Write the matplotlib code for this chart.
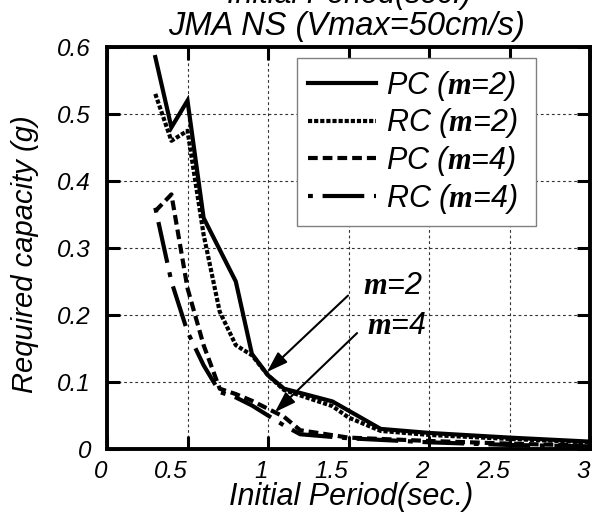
import matplotlib
matplotlib.use("Agg")
import matplotlib.pyplot as plt

plt.rcParams['font.family'] = ['Liberation Sans', 'DejaVu Sans']
plt.rcParams['font.style'] = 'italic'
plt.rcParams['mathtext.fontset'] = 'custom'
plt.rcParams['mathtext.bf'] = 'Liberation Serif:bold'
plt.rcParams['mathtext.rm'] = 'Liberation Sans:italic'
plt.rcParams['lines.scale_dashes'] = False

# ---- data ----
period_pc2 = [0.3, 0.4, 0.5, 0.6, 0.8, 0.9, 1.0, 1.1, 1.4, 1.7, 2.0, 2.5, 3.0]
cap_pc2 = [0.585, 0.48, 0.52, 0.345, 0.25, 0.142, 0.11, 0.09, 0.071, 0.03, 0.024, 0.017, 0.011]

period_rc2 = [0.3, 0.4, 0.5, 0.6, 0.7, 0.8, 0.9, 1.0, 1.1, 1.4, 1.5, 1.7, 2.0, 2.5, 3.0]
cap_rc2 = [0.53, 0.46, 0.475, 0.32, 0.205, 0.155, 0.14, 0.11, 0.088, 0.064, 0.047, 0.027, 0.021, 0.015, 0.01]

period_pc4 = [0.3, 0.4, 0.5, 0.6, 0.7, 0.8, 0.9, 1.0, 1.1, 1.2, 1.5, 2.0, 2.5, 3.0]
cap_pc4 = [0.355, 0.38, 0.24, 0.155, 0.09, 0.082, 0.072, 0.06, 0.048, 0.028, 0.017, 0.012, 0.008, 0.005]

period_rc4 = [0.3, 0.4, 0.5, 0.6, 0.7, 0.8, 0.9, 1.0, 1.1, 1.2, 1.5, 2.0, 2.5, 3.0]
cap_rc4 = [0.36, 0.25, 0.175, 0.125, 0.085, 0.077, 0.065, 0.05, 0.035, 0.022, 0.016, 0.01, 0.006, 0.004]

series_labels = [r"PC ($\mathbf{m}$=2)", r"RC ($\mathbf{m}$=2)",
                 r"PC ($\mathbf{m}$=4)", r"RC ($\mathbf{m}$=4)"]

xticks = [0, 0.5, 1, 1.5, 2, 2.5, 3]
xtick_labels = ["0", "0.5", "1", "1.5", "2", "2.5", "3"]
yticks = [0, 0.1, 0.2, 0.3, 0.4, 0.5, 0.6]
ytick_labels = ["0", "0.1", "0.2", "0.3", "0.4", "0.5", "0.6"]

title = "JMA NS (Vmax=50cm/s)"
xlabel = "Initial Period(sec.)"
ylabel = "Required capacity (g)"

# annotations: (label, text pos, arrow start, arrow tip)
ann_m2 = (r"$\mathbf{m}$=2", (1.59, 0.232), (1.497, 0.229), (0.994, 0.115))
ann_m4 = (r"$\mathbf{m}$=4", (1.615, 0.171), (1.553, 0.173), (1.043, 0.055))

# ---- figure ----
W, H = 592, 512
fig = plt.figure(figsize=(W / 100, H / 100), dpi=100)
ax = fig.add_axes([107 / W, 1 - 449 / H, 483 / W, 402 / H])

lw = 3.0
ax.plot(period_pc2, cap_pc2, color='k', lw=lw, solid_joinstyle='miter', label=series_labels[0])
ax.plot(period_rc2, cap_rc2, color='k', lw=lw, linestyle=(0, (3.0, 1.4)),
        dash_capstyle='butt', label=series_labels[1])
ax.plot(period_pc4, cap_pc4, color='k', lw=lw, linestyle=(0, (7.0, 3.6)),
        dash_capstyle='butt', label=series_labels[2])
ax.plot(period_rc4, cap_rc4, color='k', lw=lw, linestyle=(0, (3.5, 7.0, 30.0, 7.0)),
        dash_capstyle='butt', label=series_labels[3])

ax.set_xlim(0, 3)
ax.set_ylim(0, 0.6)
ax.set_xticks(xticks)
ax.set_xticklabels(xtick_labels, ha='right')
ax.set_yticks(yticks)
ax.set_yticklabels(ytick_labels)
ax.tick_params(direction='in', length=9.5, width=2.2, top=True, right=True,
               labelsize=17.5)
ax.tick_params(axis='x', pad=8)
ax.tick_params(axis='y', pad=11.5)
for s in ax.spines.values():
    s.set_linewidth(2.8)
ax.grid(True, color='#333333', lw=0.8, linestyle=(0, (2.0, 2.0)))
ax.set_axisbelow(True)

leg = ax.legend(loc='upper left',
                bbox_to_anchor=((297 - 107) / 483, (449 - 58) / 402, (536 - 297) / 483, 0.0),
                mode='expand', borderaxespad=0, fontsize=22, handlelength=2.25,
                handletextpad=0.3, labelspacing=0.12, borderpad=0.35,
                fancybox=False, framealpha=1)
leg.get_frame().set_edgecolor('#808080')
leg.get_frame().set_linewidth(1.0)

for lab, tpos, start, tip in (ann_m2, ann_m4):
    ax.annotate('', xy=tip, xytext=start,
                arrowprops=dict(arrowstyle='-|>,head_length=0.9,head_width=0.3',
                                mutation_scale=14, lw=1.5, color='k',
                                shrinkA=0, shrinkB=0))
    ax.text(tpos[0], tpos[1], lab, fontsize=22, ha='left', va='baseline')

fig.text(349 / W, 1 - 3.5 / H, xlabel, fontsize=22, ha='center', va='baseline')
fig.text(347 / W, 1 - 35 / H, title, fontsize=23.5, ha='center', va='baseline')
fig.text(351 / W, 1 - 505 / H, xlabel, fontsize=22, ha='center', va='baseline')
fig.text(25 / W, 1 - 254 / H, ylabel, fontsize=21, ha='center', va='center', rotation=90)

fig.savefig("out.png", dpi=100)
